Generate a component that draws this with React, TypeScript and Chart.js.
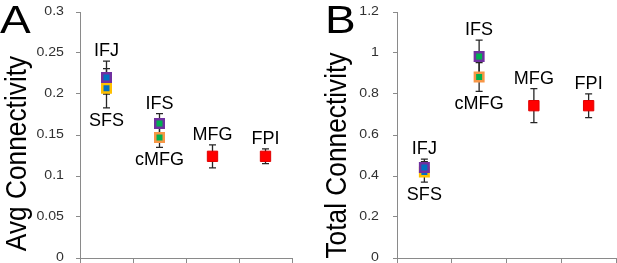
import React, { useEffect, useRef } from 'react';
import { Chart, registerables } from 'chart.js';
Chart.register(...registerables);

// Column slots on the x axis (two regions share the first two slots)
const columns = ['IFJ / SFS', 'IFS / cMFG', 'MFG', 'FPI'];
const regions = ['IFJ', 'SFS', 'IFS', 'cMFG', 'MFG', 'FPI'];
const regionColumn = [0, 0, 1, 1, 2, 3];
const labelSide = ['above', 'below', 'above', 'below', 'above', 'above'];

// Panel A: average connectivity (mean, error)
const avgValues = [0.22, 0.207, 0.164, 0.147, 0.124, 0.124];
const avgErrors = [0.02, 0.024, 0.012, 0.012, 0.014, 0.009];
const avgTicks = [0, 0.05, 0.1, 0.15, 0.2, 0.25, 0.3];
const avgTickLabels = ['0', '0.05', '0.1', '0.15', '0.2', '0.25', '0.3'];

// Panel B: total connectivity (mean, error)
const totalValues = [0.442, 0.42, 0.983, 0.883, 0.743, 0.743];
const totalErrors = [0.04, 0.05, 0.08, 0.07, 0.083, 0.058];
const totalTicks = [0, 0.2, 0.4, 0.6, 0.8, 1, 1.2];
const totalTickLabels = ['0', '0.2', '0.4', '0.6', '0.8', '1', '1.2'];

const borderColors = ['#7030A0', '#FFC000', '#7030A0', '#F79646', '#E00000', '#E00000'];
const fillColors = ['#0070C0', '#0070C0', '#00B050', '#00B050', '#FF0000', '#FF0000'];

const FONT = "'Liberation Sans', Arial, sans-serif";
const AXIS_GRAY = '#8a8a8a';
const STRETCH = 1.18;

type PanelProps = {
  letter: string;
  title: string;
  values: number[];
  errors: number[];
  ticks: number[];
  tickLabels: string[];
  width: number;
  yAxisWidth: number;
  rightPad: number;
  tickGap: number;
  titleX: number;
  titleY: number;
  letterX: number;
};

function drawText(
  ctx: CanvasRenderingContext2D,
  text: string,
  x: number,
  y: number,
  font: string,
  align: CanvasTextAlign,
  baseline: CanvasTextBaseline,
  sx: number,
  rotate = false,
  color = '#000'
) {
  ctx.save();
  ctx.fillStyle = color;
  ctx.font = font;
  ctx.textAlign = align;
  ctx.textBaseline = baseline;
  ctx.translate(x, y);
  ctx.scale(sx, 1);
  if (rotate) ctx.rotate(-Math.PI / 2);
  ctx.fillText(text, 0, 0);
  ctx.restore();
}

function Panel(p: PanelProps) {
  const ref = useRef<HTMLCanvasElement | null>(null);
  useEffect(() => {
    const canvas = ref.current;
    if (!canvas) return;
    const yMax = p.ticks[p.ticks.length - 1];

    const overlay = {
      id: 'overlay' + p.letter,
      beforeDatasetsDraw(chart: any) {
        const ctx = chart.ctx;
        const xs = chart.scales.x;
        const ys = chart.scales.y;
        ctx.save();
        ctx.strokeStyle = '#262626';
        ctx.lineWidth = 1.3;
        p.values.forEach((v, i) => {
          const x = xs.getPixelForValue(regionColumn[i] + 0.5);
          const yt = ys.getPixelForValue(v + p.errors[i]);
          const yb = ys.getPixelForValue(v - p.errors[i]);
          ctx.beginPath();
          ctx.moveTo(x, yt);
          ctx.lineTo(x, yb);
          ctx.moveTo(x - 3.5, yt);
          ctx.lineTo(x + 3.5, yt);
          ctx.moveTo(x - 3.5, yb);
          ctx.lineTo(x + 3.5, yb);
          ctx.stroke();
        });
        ctx.restore();
      },
      afterDatasetsDraw(chart: any) {
        const ctx = chart.ctx;
        const xs = chart.scales.x;
        const ys = chart.scales.y;
        regions.forEach((name, i) => {
          const x = xs.getPixelForValue(regionColumn[i] + 0.5);
          if (labelSide[i] === 'above') {
            drawText(ctx, name, x, ys.getPixelForValue(p.values[i] + p.errors[i]) - 5, `17.5px ${FONT}`, 'center', 'alphabetic', 1.03);
          } else {
            drawText(ctx, name, x, ys.getPixelForValue(p.values[i] - p.errors[i]) + 4, `17.5px ${FONT}`, 'center', 'top', 1.03);
          }
        });
      },
      afterDraw(chart: any) {
        const ctx = chart.ctx;
        const ys = chart.scales.y;
        const axisX = chart.chartArea.left;
        p.ticks.forEach((v, i) => {
          drawText(ctx, p.tickLabels[i], axisX - p.tickGap, ys.getPixelForValue(v), `12px ${FONT}`, 'right', 'middle', STRETCH, false, '#303030');
        });
        drawText(ctx, p.title, p.titleX, p.titleY, `26.3px ${FONT}`, 'center', 'alphabetic', 1.1, true);
        drawText(ctx, p.letter, p.letterX, 33, `39px ${FONT}`, 'left', 'alphabetic', STRETCH);
      },
    };

    const datasets = regions.map((name, i) => ({
      label: name,
      data: [{ x: regionColumn[i] + 0.5, y: p.values[i] }],
      pointStyle: 'rect',
      pointRadius: i >= 4 ? 7.3 : 6,
      pointBackgroundColor: fillColors[i],
      pointBorderColor: borderColors[i],
      pointBorderWidth: i >= 4 ? 1 : 2.5,
      showLine: false,
    }));

    const chart = new Chart(canvas, {
      type: 'scatter',
      data: { datasets },
      plugins: [overlay],
      options: {
        animation: false,
        responsive: false,
        devicePixelRatio: 1,
        layout: { autoPadding: false, padding: { top: 12, right: p.rightPad, left: 0, bottom: 0 } },
        plugins: { legend: { display: false }, tooltip: { enabled: false } },
        scales: {
          x: {
            type: 'linear',
            min: 0,
            max: columns.length,
            afterBuildTicks: (s: any) => {
              s.ticks = [0, 1, 2, 3, 4].map((v) => ({ value: v }));
            },
            afterFit: (s: any) => {
              s.height = 5;
              s.paddingLeft = 0;
              s.paddingRight = 0;
            },
            ticks: { display: false },
            grid: { drawOnChartArea: false, drawTicks: true, tickLength: 5, color: AXIS_GRAY },
            border: { color: AXIS_GRAY, width: 1 },
          },
          y: {
            type: 'linear',
            min: 0,
            max: yMax,
            afterBuildTicks: (s: any) => {
              s.ticks = p.ticks.map((v) => ({ value: v }));
            },
            afterFit: (s: any) => {
              s.width = p.yAxisWidth;
              s.paddingTop = 0;
              s.paddingBottom = 0;
            },
            ticks: { display: false },
            grid: { drawOnChartArea: false, drawTicks: true, tickLength: 4, color: AXIS_GRAY },
            border: { color: AXIS_GRAY, width: 1 },
          },
        },
      } as any,
    });
    return () => chart.destroy();
  }, []);
  return <canvas ref={ref} width={p.width} height={263} style={{ display: 'block', width: p.width, height: 263 }} />;
}

export default function App() {
  return (
    <div style={{ position: 'fixed', left: 0, top: 0, width: 617, height: 263, display: 'flex', background: '#fff' }}>
      <Panel
        letter="A"
        title="Avg Connectivity"
        values={avgValues}
        errors={avgErrors}
        ticks={avgTicks}
        tickLabels={avgTickLabels}
        width={307}
        yAxisWidth={80}
        rightPad={15}
        tickGap={16}
        titleX={26}
        titleY={153.5}
        letterX={0}
      />
      <Panel
        letter="B"
        title="Total Connectivity"
        values={totalValues}
        errors={totalErrors}
        ticks={totalTicks}
        tickLabels={totalTickLabels}
        width={310}
        yAxisWidth={90}
        rightPad={1}
        tickGap={18}
        titleX={39}
        titleY={155.5}
        letterX={18}
      />
    </div>
  );
}
